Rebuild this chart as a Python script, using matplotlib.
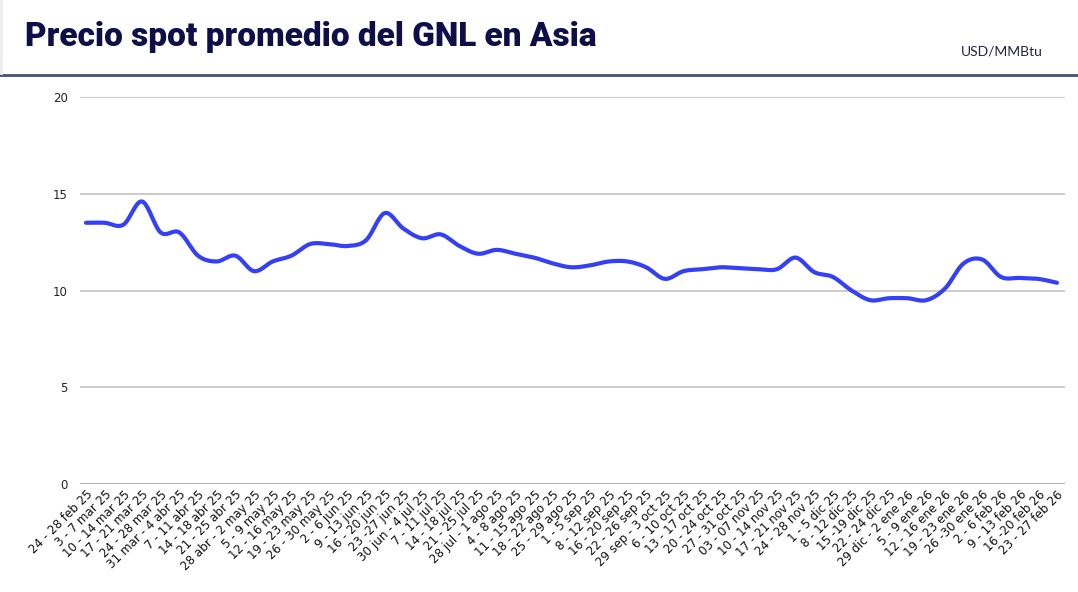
import numpy as np
import matplotlib
matplotlib.use("Agg")
import matplotlib.pyplot as plt
from matplotlib.lines import Line2D

weeks = ["24 - 28 feb 25", "3 - 7 mar 25", "10 - 14 mar 25", "17 - 21 mar 25", "24 - 28 mar 25",
         "31 mar - 4 abr 25", "7 - 11 abr 25", "14 - 18 abr 25", "21 - 25 abr 25", "28 abr - 2 may 25",
         "5 - 9 may 25", "12 - 16 may 25", "19 - 23 may 25", "26 - 30 may 25", "2 - 6 jun 25",
         "9 - 13 jun 25", "16 - 20 jun 25", "23 -27 jun 25", "30 jun - 4 jul 25", "7 - 11 jul 25",
         "14 - 18 jul 25", "21 - 25 jul 25", "28 jul - 1 ago 25", "4 - 8 ago 25", "11 - 15 ago 25",
         "18 - 22 ago 25", "25 - 29 ago 25", "1 - 5 sep 25", "8 - 12 sep 25", "16 - 20 sep 25",
         "22 - 26 sep 25", "29 sep - 3 oct 25", "6 - 10 oct 25", "13 - 17 oct 25", "20 - 24 oct 25",
         "27 - 31 oct 25", "03 - 07 nov 25", "10 - 14 nov 25", "17 - 21 nov 25", "24 - 28 nov 25",
         "1 - 5 dic 25", "8 - 12 dic 25", "15 -19 dic 25", "22 - 24 dic 25", "29 dic - 2 ene 26",
         "5 - 9 ene 26", "12 - 16 ene 26", "19 - 23 ene 26", "26 -30 ene 26", "2 - 6 feb 26",
         "9 - 13 feb 26", "16 -20 feb 26", "23 - 27 feb 26"]

price = [13.5, 13.5, 13.4, 14.6, 13.0, 13.0, 11.8, 11.5, 11.8, 11.0,
         11.5, 11.8, 12.4, 12.4, 12.3, 12.6, 14.0, 13.2, 12.7, 12.9,
         12.3, 11.9, 12.1, 11.9, 11.7, 11.4, 11.2, 11.3, 11.5, 11.5,
         11.2, 10.6, 11.0, 11.1, 11.2, 11.15, 11.1, 11.1, 11.7, 10.95,
         10.7, 10.0, 9.5, 9.6, 9.6, 9.5, 10.1, 11.4, 11.6, 10.7,
         10.65, 10.6, 10.4]

yticks = [0, 5, 10, 15, 20]

title = "Precio spot promedio del GNL en Asia"
unit = "USD/MMBtu"


def smooth(x, y, n=20):
    # Catmull-Rom spline through the data points (rendering only)
    x = np.asarray(x, float)
    y = np.asarray(y, float)
    P = np.column_stack([x, y])
    P = np.vstack([2 * P[0] - P[1], P, 2 * P[-1] - P[-2]])
    out = []
    t = np.linspace(0, 1, n, endpoint=False)
    for i in range(1, len(P) - 2):
        p0, p1, p2, p3 = P[i - 1], P[i], P[i + 1], P[i + 2]
        tt = t[:, None]
        pts = 0.5 * ((2 * p1) + (-p0 + p2) * tt + (2 * p0 - 5 * p1 + 4 * p2 - p3) * tt ** 2
                     + (-p0 + 3 * p1 - 3 * p2 + p3) * tt ** 3)
        out.append(pts)
    out.append(P[-2][None, :])
    out = np.vstack(out)
    return out[:, 0], out[:, 1]


fig = plt.figure(figsize=(10.78, 5.92), dpi=100)
fig.patch.set_facecolor("white")

ax = fig.add_axes([80 / 1078, 1 - 484 / 592, 985 / 1078, (484 - 97) / 592])
x = np.arange(len(weeks))
sx, sy = smooth(x, price)
ax.plot(sx, sy, color="#3340f5", lw=3, solid_capstyle="round", zorder=3)

ax.set_ylim(0, 20)
ax.set_xlim(-0.32, len(weeks) - 1 + 0.43)
ax.set_yticks(yticks)
ax.set_yticklabels([str(v) for v in yticks], fontsize=8.5, color="#222222", family="DejaVu Sans")
for v in yticks:
    ax.axhline(v, color="#c8c8c8" if v else "#999999", lw=1.3 if v else 1.8, zorder=1)
ax.set_xticks(x)
ax.set_xticklabels(weeks, rotation=45, ha="right", rotation_mode="anchor",
                   fontsize=8.6, color="#111111", family="DejaVu Sans")
ax.tick_params(axis="y", length=0, pad=9)
ax.tick_params(axis="x", length=0, pad=3)
for s in ax.spines.values():
    s.set_visible(False)

fig.text(25 / 1078, 1 - 46 / 592, title, fontsize=24, fontweight="heavy", color="#0e0e48",
         family="Roboto", va="baseline", ha="left")
fig.text(1043 / 1078, 1 - 52 / 592, unit, fontsize=10, color="#222244",
         family="Lato", va="center", ha="right")
fig.add_artist(Line2D([0, 1], [1 - 75 / 592, 1 - 75 / 592], transform=fig.transFigure,
                      color="#3d5577", lw=2))
fig.add_artist(Line2D([1 / 1078, 1 / 1078], [1, 1 - 73 / 592], transform=fig.transFigure,
                      color="#ececf0", lw=2))

fig.savefig("out.png", dpi=100, facecolor="white")
